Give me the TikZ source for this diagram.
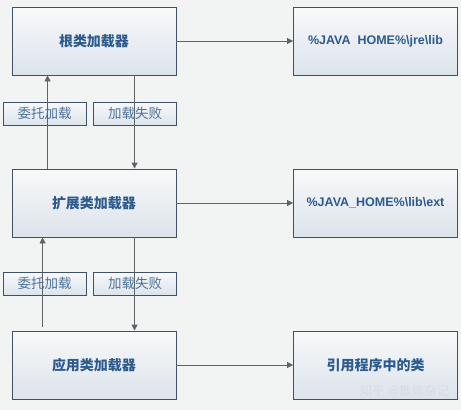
\documentclass[tikz,border=0pt]{standalone}
\usepackage{fontspec}
\setmainfont{Liberation Sans}
\newfontfamily\cjk{Noto Sans CJK SC}
\usetikzlibrary{arrows.meta}
\definecolor{bgc}{HTML}{F2F4F3}
\definecolor{edgec}{HTML}{3E5169}
\definecolor{txtc}{HTML}{2D5B8E}
\definecolor{lbltxt}{HTML}{4C729C}
\definecolor{linec}{HTML}{5F6468}
\definecolor{topf}{HTML}{F8F9FA}
\definecolor{botf}{HTML}{DCE3EB}
\tikzset{
  loader/.style={draw=edgec, line width=0.9pt, top color=topf, bottom color=botf,
    minimum width=164pt, minimum height=68pt, inner sep=0pt,
    text=txtc, font=\cjk\bfseries\fontsize{14}{16}\selectfont},
  pathbox/.style={loader, font=\bfseries\fontsize{12.5}{15}\selectfont},
  tag/.style={draw=edgec, line width=0.8pt, top color=topf, bottom color=botf,
    minimum width=83pt, minimum height=23pt, inner sep=0pt,
    text=lbltxt, font=\cjk\fontsize{13.5}{15}\selectfont},
  arr/.style={draw=linec, line width=0.9pt, -{Triangle[width=6pt,length=6pt]}},
}
\begin{document}
\begin{tikzpicture}[x=1pt,y=-1pt]
\useasboundingbox (0,0) rectangle (461,410);
\fill[bgc] (0,0) rectangle (461,410);

\node[loader] (r) at (94,41) {根类加载器};
\node[pathbox] (rp) at (375.5,41) {\%JAVA\ \ HOME\%\textbackslash jre\textbackslash lib};
\node[loader] (e) at (94,203) {扩展类加载器};
\node[pathbox] (ep) at (375.5,203) {\%JAVA\_HOME\%\textbackslash lib\textbackslash ext};
\node[loader] (a) at (94,365) {应用类加载器};
\node[loader] (ap) at (375.5,365) {引用程序中的类};

\node[tag] (t1) at (44.5,113.5) {委托加载};
\node[tag] (t2) at (135,113.5) {加载失败};
\node[tag] (t3) at (44.5,283.5) {委托加载};
\node[tag] (t4) at (135,283.5) {加载失败};

\draw[arr] (r.east) -- (rp.west);
\draw[arr] (e.east) -- (ep.west);
\draw[arr] (a.east) -- (ap.west);

\draw[arr] ([xshift=36pt]e.north west) -- ([xshift=36pt]r.south west);
\draw[arr] ([xshift=123pt]r.south west) -- ([xshift=123pt]e.north west);
\draw[arr] ([xshift=31pt,yshift=4pt]a.north west) -- ([xshift=31pt]e.south west);
\draw[arr] ([xshift=123pt]e.south west) -- ([xshift=123pt]a.north west);

\node[text=white!80!edgec, font=\cjk\fontsize{12.5}{14}\selectfont, anchor=east] (wm) at (453,391) {知乎 @散修杂记};
\end{tikzpicture}
\end{document}
